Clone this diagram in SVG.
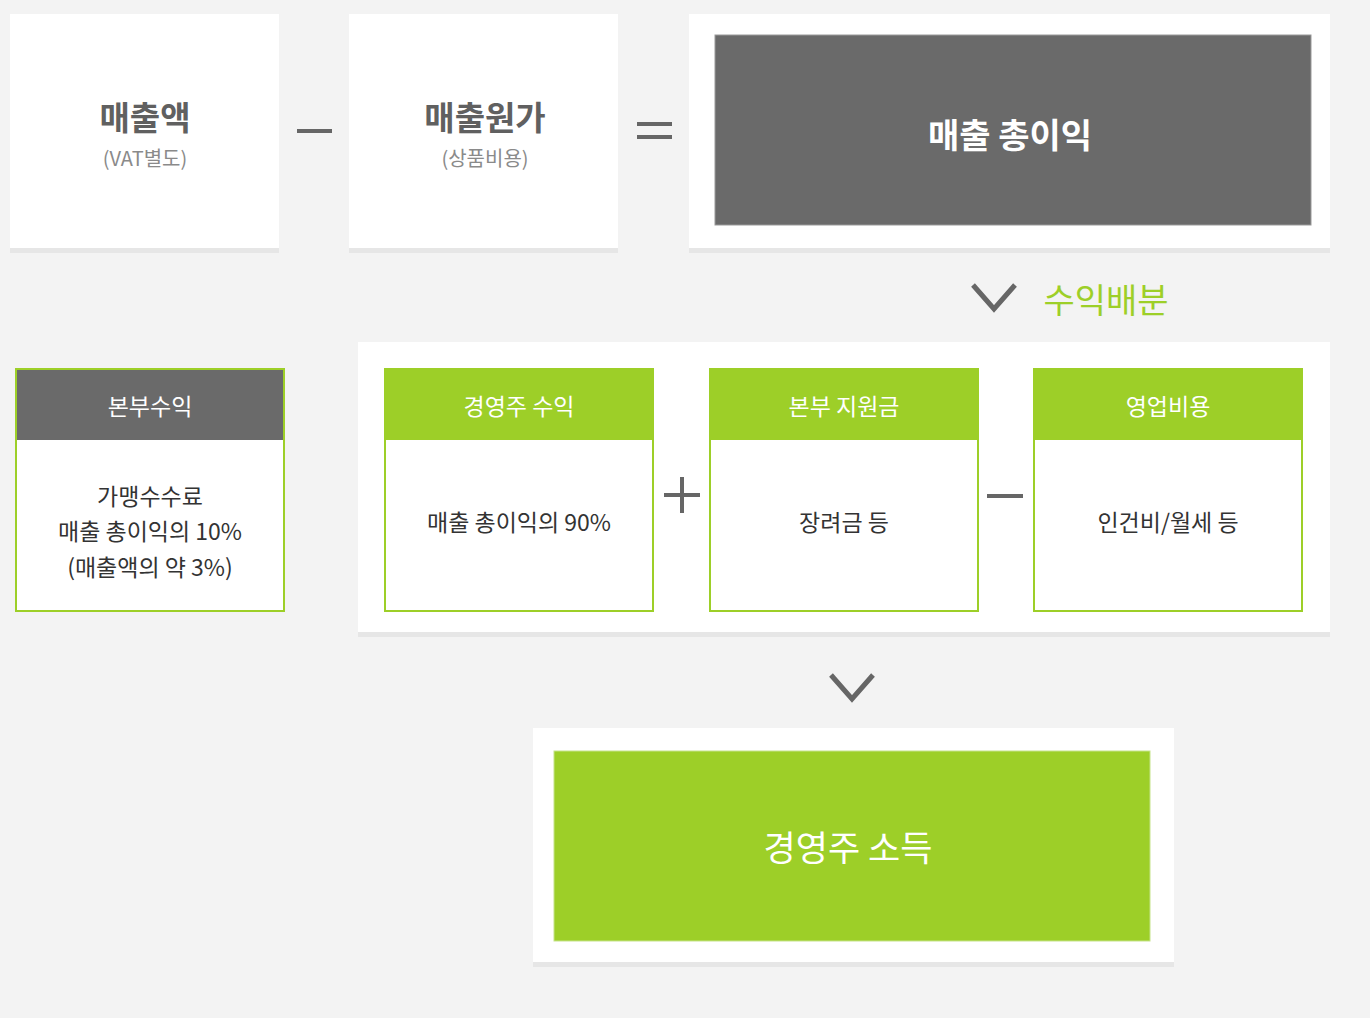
<svg xmlns="http://www.w3.org/2000/svg" width="1370" height="1018" viewBox="0 0 1370 1018">
<style>
text{font-family:"Noto Sans CJK KR","Noto Sans",sans-serif;text-anchor:middle;dominant-baseline:central}
.shadow{fill:#e6e6e6}
.panel{fill:#ffffff}
.title{font-size:33px;font-weight:700;fill:#606060}
.sub{font-size:20px;fill:#8a8a8a}
.hdr-text{font-size:23px;fill:#ffffff}
.body-text{font-size:23px;fill:#333333}
.op{stroke:#666666;stroke-width:4;fill:none}
.chev{stroke:#666666;stroke-width:5;fill:none}
.cardbox{fill:#ffffff;stroke:#9dcf28;stroke-width:2}
.green{fill:#9dcf28}
.dark{fill:#6a6a6a}
</style>
<rect x="0" y="0" width="1370" height="1018" fill="#f3f3f3"/>

<g id="node-sales">
<rect class="shadow" x="10" y="14" width="269" height="239"/>
<rect class="panel" x="10" y="14" width="269" height="234"/>
<text class="title" x="145" y="116">매출액</text>
<text class="sub" x="145" y="157">(VAT별도)</text>
</g>

<g id="node-cost">
<rect class="shadow" x="349" y="14" width="269" height="239"/>
<rect class="panel" x="349" y="14" width="269" height="234"/>
<text class="title" x="485" y="116">매출원가</text>
<text class="sub" x="485" y="157">(상품비용)</text>
</g>

<g id="node-gross">
<rect class="shadow" x="689" y="14" width="641" height="239"/>
<rect class="panel" x="689" y="14" width="641" height="234"/>
<rect class="dark" x="715" y="35" width="596" height="190" stroke="#999999" stroke-width="1"/>
<text x="1010" y="133" style="font-size:34px;font-weight:700;fill:#ffffff">매출 총이익</text>
</g>

<g id="node-distribution-label">
<text x="1106" y="298" style="font-size:34px;fill:#9dcf28">수익배분</text>
</g>

<g id="node-middle-panel">
<rect class="shadow" x="358" y="342" width="972" height="295"/>
<rect class="panel" x="358" y="342" width="972" height="290"/>
</g>

<g id="node-hq">
<rect class="cardbox" x="16" y="369" width="268" height="242"/>
<rect class="dark" x="17" y="370" width="266" height="70"/>
<text class="hdr-text" x="150" y="405">본부수익</text>
<text class="body-text" x="150" y="495">가맹수수료</text>
<text class="body-text" x="150" y="530">매출 총이익의 10%</text>
<text class="body-text" x="150" y="566">(매출액의 약 3%)</text>
</g>

<g id="node-owner-revenue">
<rect class="cardbox" x="385" y="369" width="268" height="242"/>
<rect class="green" x="385" y="368" width="268" height="72"/>
<text class="hdr-text" x="519" y="405">경영주 수익</text>
<text class="body-text" x="519" y="521">매출 총이익의 90%</text>
</g>

<g id="node-hq-support">
<rect class="cardbox" x="710" y="369" width="268" height="242"/>
<rect class="green" x="710" y="368" width="268" height="72"/>
<text class="hdr-text" x="844" y="405">본부 지원금</text>
<text class="body-text" x="844" y="521">장려금 등</text>
</g>

<g id="node-opex">
<rect class="cardbox" x="1034" y="369" width="268" height="242"/>
<rect class="green" x="1034" y="368" width="268" height="72"/>
<text class="hdr-text" x="1168" y="405">영업비용</text>
<text class="body-text" x="1168" y="521">인건비/월세 등</text>
</g>

<g id="node-owner-income">
<rect class="shadow" x="533" y="728" width="641" height="239"/>
<rect class="panel" x="533" y="728" width="641" height="234"/>
<rect class="green" x="554" y="751" width="596" height="190" stroke="#c5e38a" stroke-width="1"/>
<text x="848" y="845" style="font-size:35px;fill:#ffffff">경영주 소득</text>
</g>

<g id="connectors">
<line class="op" x1="297" y1="131" x2="332" y2="131"/>
<line class="op" x1="637" y1="124" x2="672" y2="124"/>
<line class="op" x1="637" y1="137" x2="672" y2="137"/>
<polyline class="chev" points="973,285 994,309 1015,285"/>
<line class="op" x1="664" y1="495" x2="700" y2="495"/>
<line class="op" x1="682" y1="477" x2="682" y2="513"/>
<line class="op" x1="987" y1="496" x2="1023" y2="496"/>
<polyline class="chev" points="831,675 852,699 873,675"/>
</g>
</svg>
